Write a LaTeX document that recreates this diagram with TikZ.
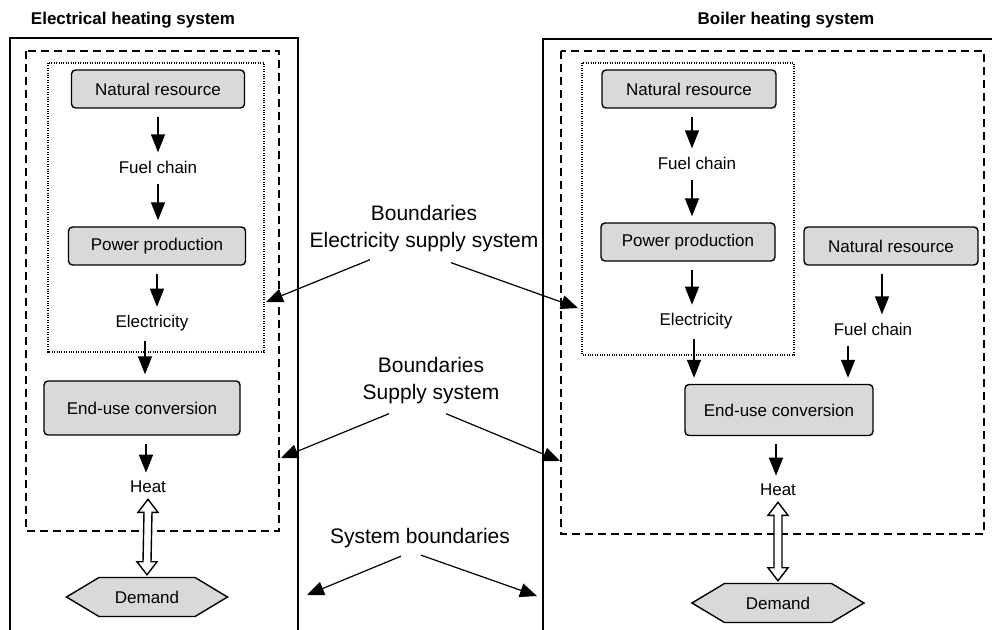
\documentclass[tikz,border=0pt]{standalone}
\usepackage{fontspec}
\setmainfont{Liberation Sans}
\usetikzlibrary{arrows.meta,calc,shapes.symbols}

\tikzset{
  stage/.style={draw, rounded corners=2pt, fill=gray!30, line width=0.7pt,
    minimum height=19pt, font=\fontsize{8.5}{10}\selectfont},
  flowtext/.style={inner sep=1pt, font=\fontsize{8.5}{10}\selectfont},
  demand/.style={signal, signal to=east and west, signal pointer angle=62,
    draw, fill=gray!30, line width=0.7pt, minimum width=80.5pt,
    minimum height=19.5pt, inner sep=1pt, font=\fontsize{8.5}{10}\selectfont},
  flow/.style={-{Triangle[length=9pt,width=7pt]}, line width=0.7pt,
    shorten <=4pt, shorten >=3pt},
  pointer/.style={-{Triangle[length=8.5pt,width=7pt]}, line width=0.6pt},
  bound/.style={align=center, inner sep=0pt, font=\fontsize{10.5}{13.5}\selectfont},
  title/.style={font=\bfseries\fontsize{8.5}{10}\selectfont},
  sysline/.style={line width=0.7pt},
  supline/.style={line width=0.7pt, dash pattern=on 4pt off 2.5pt},
  elline/.style={line width=0.9pt, dash pattern=on 0.55pt off 0.65pt},
}

% open double arrow between heat and demand
\newcommand{\heatlink}[2]{%
  \draw[line width=0.7pt, fill=white]
    ($(#1.south)+(0,4)$) -- ++(-10,13) -- ++(6,0) -- ($(#2.north)+(-4,-15)$)
    -- ++(-6,0) -- ($(#2.north)+(0,-2)$) -- ++(10,-13) -- ++(-6,0)
    -- ($(#1.south)+(4,17)$) -- ++(6,0) -- cycle;}

\begin{document}
\begin{tikzpicture}[x=0.5pt, y=-0.5pt]
  \useasboundingbox (0,0) rectangle (992,630);

  % boundaries
  \draw[sysline] (10,632) -- (10,38) -- (298,38) -- (298,632);
  \draw[sysline] (543,632) -- (543,39) -- (994,39);
  \draw[supline] (26,51) rectangle (279,531);
  \draw[supline] (561,51) rectangle (984,534);
  \draw[elline] (48,63) rectangle (264,352);
  \draw[elline] (582,63) rectangle (794,355);

  % electrical heating system
  \node[title] (t1) at (133,20) {Electrical heating system};
  \node[stage, minimum width=86.5pt] (nr1) at (158,89) {Natural resource};
  \node[flowtext] (fc1) at (158,167) {Fuel chain};
  \node[stage, minimum width=88.5pt] (pp1) at (157,246) {Power production};
  \node[flowtext] (el1) at (152,323) {Electricity};
  \node[stage, minimum width=98pt, minimum height=27pt] (eu1) at (142,408) {End-use conversion};
  \node[flowtext] (ht1) at (148,487) {Heat};
  \node[demand] (dm1) at (147,597) {Demand};

  \draw[flow] (nr1.south) -- (nr1.south |- fc1.north);
  \draw[flow] (fc1.south) -- (fc1.south |- pp1.north);
  \draw[flow] (pp1.south) -- (pp1.south |- el1.north);
  \draw[flow] ([xshift=-3.5pt]el1.south) -- ([xshift=-3.5pt]el1.south |- eu1.north);
  \draw[flow] ([xshift=2pt]eu1.south) -- ([xshift=2pt]eu1.south |- ht1.north);
  \heatlink{ht1}{dm1}

  % boiler heating system
  \node[title] (t2) at (786,20) {Boiler heating system};
  \node[stage, minimum width=87pt] (nr2) at (689,89) {Natural resource};
  \node[flowtext] (fc2) at (697,163) {Fuel chain};
  \node[stage, minimum width=87pt] (pp2) at (688,242) {Power production};
  \node[flowtext] (el2) at (696,321) {Electricity};
  \node[stage, minimum width=87pt] (nr3) at (891,246) {Natural resource};
  \node[flowtext] (fc3) at (873,329) {Fuel chain};
  \node[stage, minimum width=94pt, minimum height=25.5pt] (eu2) at (779,410) {End-use conversion};
  \node[flowtext] (ht2) at (778,490) {Heat};
  \node[demand, minimum width=86pt] (dm2) at (778,603) {Demand};

  \draw[flow] ([xshift=1.5pt]nr2.south) -- ([xshift=1.5pt]nr2.south |- fc2.north);
  \draw[flow] ([xshift=-2.5pt]fc2.south) -- ([xshift=-2.5pt]fc2.south |- pp2.north);
  \draw[flow] ([xshift=2pt]pp2.south) -- ([xshift=2pt]pp2.south |- el2.north);
  \draw[flow] ([xshift=-4.5pt]nr3.south) -- ([xshift=-4.5pt]nr3.south |- fc3.north);
  \draw[flow] ([xshift=-1pt]el2.south) -- ([xshift=-1pt]el2.south |- eu2.north);
  \draw[flow] ([xshift=-12.5pt]fc3.south) -- ([xshift=-12.5pt]fc3.south |- eu2.north);
  \draw[flow] ([xshift=-1.5pt]eu2.south) -- ([xshift=-1.5pt]eu2.south |- ht2.north);
  \heatlink{ht2}{dm2}

  % boundary labels
  \node[bound] (bd1) at (424,229) {Boundaries\\Electricity supply system};
  \node[bound] (bd2) at (431,381) {Boundaries\\Supply system};
  \node[bound] (bd3) at (420,538) {System boundaries};

  \coordinate (esl) at (266,302);
  \coordinate (esr) at (578,308);
  \coordinate (ssl) at (281,458);
  \coordinate (ssr) at (560,461);
  \coordinate (sbl) at (307,595);
  \coordinate (sbr) at (537,596);

  \draw[pointer] ($(bd1.south)+(-54,7)$) -- (esl);
  \draw[pointer] ($(bd1.south)+(27,10)$) -- (esr);
  \draw[pointer] ($(bd2.south)+(-42,9)$) -- (ssl);
  \draw[pointer] ($(bd2.south)+(15,9)$) -- (ssr);
  \draw[pointer] ($(bd3.south)+(-19,8)$) -- (sbl);
  \draw[pointer] ($(bd3.south)+(1,7)$) -- (sbr);
\end{tikzpicture}
\end{document}
